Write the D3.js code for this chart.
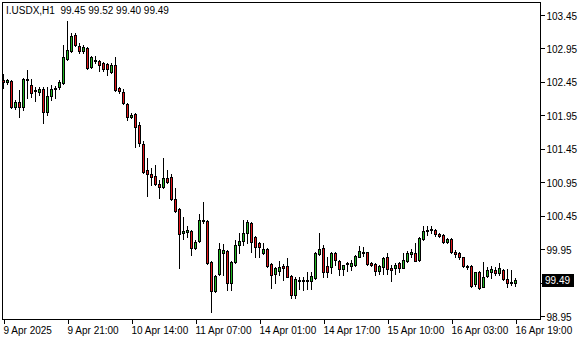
<!DOCTYPE html>
<html>
<head>
<meta charset="utf-8">
<script src="https://cdn.jsdelivr.net/npm/d3@7"></script>
<style>
    body { margin: 0; background: #fff; }
    svg { display: block; }
    text { font-family: "Liberation Sans", Arial, sans-serif; font-size: 10px; fill: #000; }
</style>
</head>
<body>
<svg id="chart"></svg>
<script>
// I.USDX H1 candles
const opens = [102.48,102.45,102.46,102.07,102.15,102.07,102.49,102.40,102.33,102.30,
    102.34,102.00,102.24,102.34,102.37,102.43,102.79,102.91,103.15,102.99,
    102.91,102.96,102.67,102.78,102.76,102.73,102.72,102.60,102.70,102.36,
    102.30,102.12,101.92,101.97,101.80,101.52,101.13,101.07,101.04,100.92,
    100.88,101.01,101.03,100.70,100.55,100.19,100.21,100.22,99.97,100.07,
    100.37,100.37,99.76,99.32,99.58,99.89,99.92,99.44,99.76,100.01,
    100.07,100.19,100.34,100.13,100.04,99.89,99.95,99.73,99.58,99.62,
    99.70,99.70,99.55,99.26,99.49,99.47,99.47,99.47,99.52,99.88,
    99.97,99.70,99.68,99.89,99.77,99.65,99.73,99.70,99.71,99.83,
    99.89,99.91,99.74,99.73,99.62,99.68,99.83,99.67,99.67,99.74,
    99.67,99.77,99.88,99.89,99.79,100.10,100.22,100.24,100.24,100.18,
    100.16,100.06,100.10,99.91,99.89,99.83,99.70,99.70,99.43,99.61,
    99.38,99.55,99.61,99.64,99.59,99.64,99.50,99.44,99.45];
const highs = [102.57,102.49,102.48,102.18,102.33,102.51,102.63,102.49,102.37,102.37,
    102.37,102.37,102.40,102.39,102.48,103.00,103.36,103.18,103.18,103.03,
    103.00,102.97,102.84,102.84,102.78,102.75,102.73,102.73,102.82,102.37,
    102.34,102.13,101.98,101.98,101.85,101.57,101.31,101.16,101.21,100.98,
    101.31,101.13,101.07,100.86,100.56,100.43,100.30,100.24,100.09,100.47,
    100.65,100.39,99.77,99.56,100.04,100.03,99.94,99.77,100.09,100.19,
    100.39,100.39,100.36,100.15,100.06,100.04,99.97,99.74,99.68,99.77,
    99.73,99.82,99.56,99.53,99.53,99.53,99.61,99.61,99.91,100.19,
    100.01,99.83,99.91,99.91,99.79,99.71,99.76,99.79,99.86,100.00,
    99.98,99.91,99.76,99.74,99.71,99.83,99.89,99.71,99.74,99.76,
    99.89,99.92,99.95,100.04,100.13,100.30,100.30,100.30,100.25,100.19,
    100.18,100.12,100.12,99.94,99.91,99.83,99.71,99.71,99.61,99.62,
    99.76,99.68,99.70,99.68,99.74,99.65,99.65,99.64,99.52];
const lows = [102.36,102.42,102.06,102.04,101.92,102.03,102.21,102.22,102.16,102.25,
    101.84,101.95,102.18,102.21,102.34,102.42,102.78,102.90,102.99,102.88,
    102.88,102.64,102.66,102.73,102.61,102.61,102.55,102.58,102.31,102.28,
    102.12,101.88,101.91,101.48,101.49,101.09,100.74,100.91,100.91,100.71,
    100.86,100.94,100.68,100.50,99.67,100.10,100.13,99.86,99.95,100.06,
    100.34,99.73,99.01,99.31,99.56,99.56,99.34,99.34,99.74,99.89,
    100.01,100.04,99.91,99.83,99.83,99.88,99.68,99.37,99.44,99.56,
    99.49,99.53,99.22,99.22,99.35,99.34,99.35,99.35,99.50,99.86,
    99.53,99.53,99.59,99.71,99.56,99.56,99.62,99.64,99.70,99.83,
    99.85,99.71,99.70,99.56,99.58,99.58,99.58,99.47,99.58,99.61,
    99.67,99.76,99.83,99.77,99.77,100.09,100.16,100.19,100.15,100.13,
    100.04,100.04,99.89,99.83,99.80,99.68,99.65,99.38,99.40,99.35,
    99.38,99.53,99.52,99.56,99.56,99.49,99.38,99.41,99.40];
const closes = [102.45,102.48,102.07,102.15,102.07,102.49,102.48,102.28,102.31,102.34,
    102.00,102.24,102.34,102.36,102.45,102.82,102.93,103.14,103.00,102.91,
    102.97,102.66,102.82,102.76,102.70,102.64,102.64,102.70,102.33,102.31,
    102.13,101.92,101.95,101.77,101.54,101.10,101.07,101.03,100.92,100.88,
    101.01,100.95,100.70,100.52,100.18,100.22,100.24,99.97,100.06,100.39,
    100.39,99.74,99.32,99.55,99.95,99.94,99.44,99.76,100.01,100.07,
    100.19,100.36,100.06,99.98,99.98,99.95,99.70,99.56,99.67,99.68,
    99.67,99.53,99.26,99.50,99.47,99.49,99.49,99.55,99.89,99.95,
    99.61,99.61,99.89,99.79,99.65,99.71,99.74,99.74,99.85,99.92,
    99.91,99.73,99.71,99.62,99.70,99.82,99.65,99.64,99.71,99.67,
    99.79,99.89,99.91,99.77,100.12,100.22,100.24,100.25,100.18,100.15,
    100.06,100.10,99.91,99.88,99.83,99.70,99.68,99.40,99.61,99.37,
    99.53,99.64,99.65,99.59,99.67,99.50,99.44,99.46,99.49];

const timeTickIdx = [0, 16, 32, 48, 64, 80, 96, 112, 128];
const timeTickLabels = ["9 Apr 2025", "9 Apr 21:00", "10 Apr 14:00", "11 Apr 07:00",
    "14 Apr 01:00", "14 Apr 17:00", "15 Apr 10:00", "16 Apr 03:00", "16 Apr 19:00"];
const priceTicks = [103.45, 102.95, 102.45, 101.95, 101.45, 100.95, 100.45, 99.95, 99.45, 98.95];

const title = "I.USDX,H1  99.45 99.52 99.40 99.49";
const lastPrice = 99.49;

const width = 580, height = 340;
const frame = {left: 2, top: 2, right: 540, bottom: 319};
const bullColor = "#22b522", bearColor = "#e2161b";

const svg = d3.select("#chart")
    .attr("width", width)
    .attr("height", height);

const x = d3.scaleLinear().domain([0, 128]).range([3, 515]);
const y = d3.scaleLinear().domain([98.95, 103.45]).range([316, 15]);

const candles = opens.map((o, i) => ({i: i, o: o, h: highs[i], l: lows[i], c: closes[i]}));

// frame
svg.append("rect")
    .attr("x", frame.left + 0.5)
    .attr("y", frame.top + 0.5)
    .attr("width", frame.right - frame.left)
    .attr("height", frame.bottom - frame.top)
    .attr("fill", "none")
    .attr("stroke", "#000")
    .attr("shape-rendering", "crispEdges");

// candles
const g = svg.append("g").attr("shape-rendering", "crispEdges");
g.selectAll("g.candle")
    .data(candles)
    .join("g")
    .attr("class", "candle")
    .each(function (d) {
        const c = d3.select(this);
        const cx = Math.round(x(d.i));
        const yh = Math.round(y(d.h)), yl = Math.round(y(d.l));
        const top = Math.round(y(Math.max(d.o, d.c)));
        const bot = Math.round(y(Math.min(d.o, d.c)));

        c.append("rect")
            .attr("x", cx).attr("y", yh)
            .attr("width", 1).attr("height", yl - yh + 1)
            .attr("fill", "#000");

        c.append("rect")
            .attr("x", cx - 1).attr("y", top)
            .attr("width", 3).attr("height", bot - top + 1)
            .attr("fill", "#000");

        if (bot - top > 1) {
            c.append("rect")
                .attr("x", cx).attr("y", top + 1)
                .attr("width", 1).attr("height", bot - top - 1)
                .attr("fill", d.c >= d.o ? bullColor : bearColor);
        }
    });

// price axis (99.45 sits under the current price box, so its label is left blank)
const yAxis = svg.append("g")
    .attr("transform", `translate(${frame.right + 0.5},0)`)
    .call(d3.axisRight(y).tickValues(priceTicks).tickSize(4).tickPadding(2)
        .tickFormat(d => Math.abs(d - lastPrice) < 0.1 ? "" : d3.format(".2f")(d)));
yAxis.select(".domain").remove();
yAxis.selectAll("line").attr("stroke", "#000").attr("shape-rendering", "crispEdges");
yAxis.selectAll("text").attr("dy", "0.4em").style("font-size", "10px");

// time axis
const xAxis = svg.append("g")
    .attr("transform", `translate(0,${frame.bottom + 0.5})`)
    .call(d3.axisBottom(x).tickValues(timeTickIdx).tickSize(4).tickPadding(3)
        .tickFormat((d, k) => timeTickLabels[k]));
xAxis.select(".domain").remove();
xAxis.selectAll("line").attr("stroke", "#000").attr("transform", "translate(0.5,0)")
    .attr("shape-rendering", "crispEdges");
xAxis.selectAll("text").attr("text-anchor", "start").attr("x", 0).style("font-size", "10px");

// current price label
const py = Math.round(y(lastPrice));
svg.append("rect")
    .attr("x", frame.right + 2).attr("y", py - 6)
    .attr("width", 32).attr("height", 13)
    .attr("fill", "#000");
svg.append("text")
    .attr("x", frame.right + 5).attr("y", py + 4)
    .style("fill", "#fff")
    .text(d3.format(".2f")(lastPrice));

// title
svg.append("text")
    .attr("x", 6).attr("y", 14)
    .style("white-space", "pre")
    .text(title);
</script>
</body>
</html>
